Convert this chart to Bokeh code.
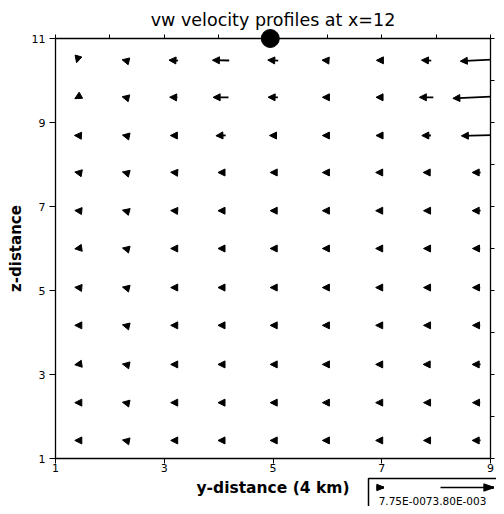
from bokeh.plotting import figure
from bokeh.models import Range1d, LinearAxis, FixedTicker, Arrow, NormalHead, ColumnDataSource
from bokeh.core.properties import value
from bokeh.embed import file_html
from bokeh.resources import INLINE

# ---- data ----
y_dist = [1.40, 2.27, 3.17, 4.04, 5.00, 5.96, 6.94, 7.82, 8.74]          # columns
z_dist = [10.48, 9.60, 8.69, 7.81, 6.90, 6.00, 5.07, 4.17, 3.24, 2.33, 1.43]  # rows, top first

# horizontal (v) component, units of 1e-3, rows top first
v_comp = [
    [-0.10, -0.35, -0.65, -1.20, -0.75, -0.45, -0.30, -0.70, -2.30],
    [-0.35, -0.35, -0.55, -1.10, -0.70, -0.40, -0.35, -1.00, -3.37],
    [-0.40, -0.30, -0.45, -0.70, -0.50, -0.40, -0.35, -0.65, -2.15],
    [-0.35, -0.30, -0.40, -0.40, -0.40, -0.40, -0.40, -0.45, -0.60],
    [-0.35, -0.30, -0.40, -0.40, -0.40, -0.40, -0.40, -0.40, -0.60],
    [-0.35, -0.30, -0.40, -0.40, -0.40, -0.40, -0.40, -0.40, -0.55],
    [-0.35, -0.30, -0.40, -0.40, -0.40, -0.40, -0.40, -0.40, -0.55],
    [-0.35, -0.30, -0.40, -0.40, -0.40, -0.40, -0.40, -0.40, -0.55],
    [-0.35, -0.30, -0.40, -0.40, -0.40, -0.40, -0.40, -0.45, -0.60],
    [-0.35, -0.30, -0.40, -0.40, -0.40, -0.40, -0.40, -0.40, -0.55],
    [-0.35, -0.30, -0.40, -0.40, -0.40, -0.40, -0.40, -0.40, -0.60],
]
# vertical (w) component, units of 1e-3, rows top first
w_comp = [
    [-0.35, 0.08, 0.03, 0.02, 0.04, 0.03, 0.00, 0.03, -0.12],
    [-0.20, 0.08, 0.02, 0.00, 0.02, 0.00, 0.00, 0.00, -0.15],
    [0.02, 0.06, 0.00, -0.03, 0.00, 0.00, 0.00, 0.00, -0.05],
    [0.06, 0.08, 0.03, 0.00, 0.00, 0.00, 0.00, 0.00, 0.00],
    [0.03, 0.08, 0.02, 0.00, 0.00, 0.00, 0.00, 0.00, 0.00],
    [-0.05, 0.07, 0.00, 0.00, 0.00, 0.00, 0.00, 0.00, 0.00],
    [0.03, 0.07, 0.00, 0.00, 0.00, 0.00, 0.00, 0.00, 0.00],
    [0.00, 0.07, 0.00, 0.00, 0.00, 0.00, 0.00, 0.00, 0.00],
    [-0.05, 0.06, 0.00, 0.00, 0.00, 0.00, 0.00, 0.00, 0.00],
    [0.00, 0.06, 0.00, 0.00, 0.00, 0.00, 0.00, 0.00, 0.00],
    [0.00, 0.06, 0.00, 0.00, 0.00, 0.00, 0.00, 0.00, 0.00],
]
source_point = (4.95, 11.0)
legend_min = 7.75e-7
legend_max = 3.80e-3
legend_texts = ["7.75E-007", "3.80E-003"]
x_ticks = [1, 3, 5, 7, 9]
z_ticks = [1, 3, 5, 7, 9, 11]

# ---- figure ----
W, H = 496, 506
BL, BR, BT, BB = 55, 6, 38, 48
p = figure(width=W, height=H, output_backend="svg", toolbar_location=None,
           x_range=Range1d(1, 9), y_range=Range1d(1, 11),
           min_border_left=BL, min_border_right=BR, min_border_top=BT,
           min_border_bottom=BB, title="vw velocity profiles at x=12")
FONT = "DejaVu Sans"
p.title.align = "center"
p.title.text_font = FONT
p.title.text_font_size = "17.5px"
p.title.text_font_style = "normal"
p.title.text_color = "black"
p.title.standoff = 9
p.outline_line_color = None
p.xgrid.grid_line_color = None
p.ygrid.grid_line_color = None

xa = p.xaxis[0]
xa.ticker = FixedTicker(ticks=x_ticks)
xa.axis_label = "y-distance (4 km)"
ya = p.yaxis[0]
ya.ticker = FixedTicker(ticks=z_ticks)
ya.axis_label = "z-distance"
for ax in (xa, ya):
    ax.axis_line_color = "black"
    ax.axis_line_width = 1.3
    ax.major_tick_line_color = "black"
    ax.major_tick_in = 0
    ax.major_tick_out = 6
    ax.minor_tick_line_color = None
    ax.major_label_text_font = FONT
    ax.major_label_text_font_size = "11px"
    ax.major_label_text_color = "black"
    ax.axis_label_text_font = FONT
    ax.axis_label_text_font_style = "bold"
    ax.axis_label_text_color = "black"
xa.major_tick_out = 5
xa.major_label_standoff = 0
xa.axis_label_standoff = 4
xa.axis_label_text_font_size = "15.5px"
ya.major_label_standoff = 4
ya.axis_label_standoff = 4
ya.axis_label_text_font_size = "15px"

top = LinearAxis(ticker=FixedTicker(ticks=list(range(1, 10))))
right = LinearAxis(ticker=FixedTicker(ticks=list(range(1, 12))))
for ax in (top, right):
    ax.axis_line_color = "black"
    ax.axis_line_width = 1.3
    ax.major_tick_line_color = "black"
    ax.major_tick_in = 0
    ax.major_tick_out = 4
    ax.minor_tick_line_color = None
    ax.major_label_text_color = None
    ax.major_label_text_font_size = "0px"
    ax.major_label_standoff = 0
p.add_layout(top, "above")
p.add_layout(right, "right")

# ---- pixel <-> data helpers (frame geometry) ----
frame_w_px = W - BL - BR
frame_h_px = H - BT - BB
px_per_x = frame_w_px / (9 - 1)
px_per_z = frame_h_px / (11 - 1)
def dx_(px):  # canvas x -> data x
    return 1 + (px - BL) / px_per_x
def dy_(py):  # canvas y -> data y
    return 11 - (py - BT) / px_per_z

# ---- vectors ----
scale_px = 53.0 / (legend_max * 1e3)   # px per 1e-3 m/s
x0, y0, x1, y1 = [], [], [], []
for r, z in enumerate(z_dist):
    for c, y in enumerate(y_dist):
        ddx = v_comp[r][c] * scale_px / px_per_x
        ddz = w_comp[r][c] * scale_px / px_per_z
        x0.append(y - ddx / 2); x1.append(y + ddx / 2)
        y0.append(z - ddz / 2); y1.append(z + ddz / 2)
src = ColumnDataSource(dict(x0=x0, y0=y0, x1=x1, y1=y1))
p.add_layout(Arrow(source=src, x_start="x0", y_start="y0", x_end="x1", y_end="y1",
                   line_color="black", line_width=1.8,
                   end=NormalHead(size=7, fill_color="black", line_color="black",
                                  line_width=1)))

p.scatter(x=[source_point[0]], y=[source_point[1]], size=18, color="black",
          level="overlay")

# ---- legend (reference vectors), drawn below the frame ----
box_left, box_top = 368, 478
p.multi_line(xs=[[dx_(box_left), dx_(box_left), dx_(W + 10)]],
             ys=[[dy_(H + 10), dy_(box_top), dy_(box_top)]],
             line_color="black", line_width=1.5, level="overlay")
arrow_y = 487
min_len = legend_min * 1e3 * scale_px
max_len = legend_max * 1e3 * scale_px
min_x0 = 376
max_x0 = 440
head_len, head_half = [7, 10], [3.0, 3.5]
tails = [min_x0, max_x0]
tips = [min_x0 + max(min_len, head_len[0]), max_x0 + max_len]
sx0, sy0, sx1, sy1 = [], [], [], []
for t, tip, hl, hh in zip(tails, tips, head_len, head_half):
    # shaft
    sx0.append(dx_(t)); sy0.append(dy_(arrow_y))
    sx1.append(dx_(tip - 2)); sy1.append(dy_(arrow_y))
    # filled head made of a fan of strokes
    n = 9
    for k in range(n):
        off = -hh + 2 * hh * k / (n - 1)
        sx0.append(dx_(tip)); sy0.append(dy_(arrow_y))
        sx1.append(dx_(tip - hl)); sy1.append(dy_(arrow_y + off))
p.segment(x0=sx0, y0=sy0, x1=sx1, y1=sy1,
          line_color="black", line_width=1.5, level="overlay")
split_x = 432
p.text(x=[dx_(split_x), dx_(split_x)], y=[dy_(500), dy_(500)],
       text=legend_texts, text_align=["right", "left"],
       text_baseline="alphabetic", text_font=value(FONT), text_font_size="10.5px",
       text_color="black", level="overlay")

open("out.html", "w").write(file_html(p, INLINE))
